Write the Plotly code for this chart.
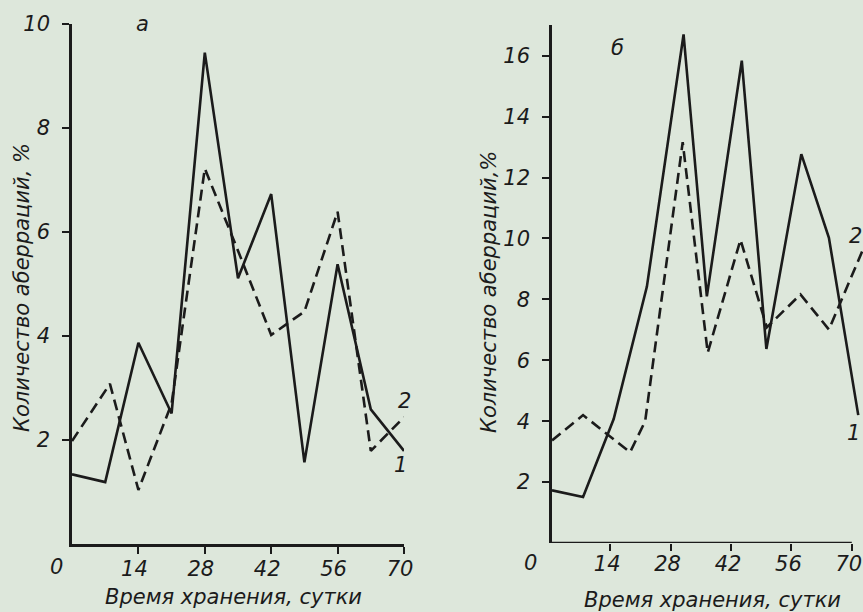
import plotly.graph_objects as go

W, H = 863, 612

# ---- data ----
a_days_1 = [0, 7, 14, 21, 28, 35, 42, 49, 56, 63, 70]
a_curve_1 = [1.34, 1.19, 3.87, 2.51, 9.45, 5.11, 6.73, 1.57, 5.38, 2.59, 1.79]
a_days_2 = [0, 8, 14, 21, 28, 35, 42, 49, 56, 63, 70]
a_curve_2 = [1.98, 3.08, 1.04, 2.70, 7.22, 5.64, 4.02, 4.47, 6.39, 1.79, 2.44]

b_days_1 = [0.5, 7.7, 14.8, 22.5, 31.0, 36.4, 44.5, 50.2, 58.3, 64.7, 71.5]
b_curve_1 = [1.73, 1.51, 4.07, 8.42, 16.7, 8.1, 15.84, 6.37, 12.77, 10.02, 4.2]
b_days_2 = [0.5, 7.7, 18.6, 22.1, 30.8, 36.6, 44.2, 50.3, 58.1, 64.7, 72.6]
b_curve_2 = [3.37, 4.2, 2.98, 4.0, 13.16, 6.25, 9.96, 7.08, 8.16, 7.01, 9.64]

x_ticks = [14, 28, 42, 56, 70]
a_y_ticks = [2, 4, 6, 8, 10]
b_y_ticks = [2, 4, 6, 8, 10, 12, 14, 16]

x_title = "Время хранения, сутки"
a_y_title = "Количество аберраций, %"
b_y_title = "Количество аберраций,%"

INK = "#1b1b1b"
BG = "#dde7db"
FONT = "DejaVu Sans"


def px_x(p):
    return p / W


def px_y(p):
    return 1 - p / H


fig = go.Figure()
solid = dict(color=INK, width=2.6)
dashed = dict(color=INK, width=2.6, dash="11px,6px")
fig.add_trace(go.Scatter(x=a_days_1, y=a_curve_1, mode="lines", line=solid, xaxis="x", yaxis="y", showlegend=False))
fig.add_trace(go.Scatter(x=a_days_2, y=a_curve_2, mode="lines", line=dashed, xaxis="x", yaxis="y", showlegend=False))
fig.add_trace(go.Scatter(x=b_days_1, y=b_curve_1, mode="lines", line=solid, xaxis="x2", yaxis="y2", showlegend=False))
fig.add_trace(go.Scatter(x=b_days_2, y=b_curve_2, mode="lines", line=dashed, xaxis="x2", yaxis="y2", showlegend=False))

tickfont = dict(family=FONT, size=21, color=INK, style="italic")
common_axis = dict(showgrid=False, zeroline=False, linecolor=INK, linewidth=2.6,
                   ticks="outside", ticklen=7, tickwidth=2, tickcolor=INK,
                   tickfont=tickfont, automargin=False, ticklabeloverflow="allow")

fig.update_layout(
    width=W, height=H,
    margin=dict(l=0, r=0, t=0, b=0, autoexpand=False),
    paper_bgcolor=BG, plot_bgcolor=BG,
    xaxis=dict(domain=[px_x(72), px_x(404)], range=[0, 70], anchor="y",
               showline=True, tickvals=x_ticks, ticklabelstandoff=-3,
               ticklabelshift=-4, **common_axis),
    yaxis=dict(domain=[px_y(544), px_y(24)], range=[0, 10], anchor="x",
               showline=True, tickvals=a_y_ticks, ticklabelstandoff=8, **common_axis),
    xaxis2=dict(domain=[px_x(552), 1.0], range=[0.5, 72.6], anchor="y2",
                showline=False, tickvals=x_ticks, ticklabelstandoff=-5,
                ticklabelshift=-3, **common_axis),
    yaxis2=dict(domain=[px_y(543), px_y(25.3)], range=[0, 17], anchor="x2",
                showline=True, tickvals=b_y_ticks, ticklabelstandoff=8, **common_axis),
)

# x-axis line of panel б stops at 70 days
fig.add_shape(type="line", xref="x2", yref="y2", x0=0.5, x1=70, y0=0, y1=0,
              line=dict(color=INK, width=2.6))

txt = dict(family=FONT, size=21, color=INK, style="italic")
ttl = dict(family=FONT, size=21, color=INK, style="italic")
ann = []


def label(x, y, text, font=txt, xref="paper", xshift=0, angle=0):
    ann.append(dict(xref=xref, yref="paper", x=x, y=px_y(y), xshift=xshift,
                    text=text, textangle=angle, showarrow=False, font=font,
                    xanchor="center", yanchor="middle"))


# origin labels
label(0, 567, "0", xref="x", xshift=-16)
label(0.5, 563, "0", xref="x2", xshift=-22)
# axis titles
label(px_x(233), 597, x_title, font=ttl)
label(px_x(712), 600, x_title, font=ttl)
label(px_x(22), 288, a_y_title, font=ttl, angle=-90)
label(px_x(489), 292, b_y_title, font=ttl, angle=-90)
# panel letters
label(px_x(142), 24, "а")
label(px_x(617), 48, "б")
# curve numbers
label(px_x(404), 401, "2")
label(px_x(400), 465, "1")
label(px_x(855), 236, "2")
label(px_x(853), 433, "1")
fig.update_layout(annotations=ann)

page_js = ("document.documentElement.style.margin='0';"
           "document.documentElement.style.overflow='hidden';"
           "document.body.style.margin='0';"
           "document.body.style.overflow='hidden';"
           "document.body.style.background='" + BG + "';")

fig.write_html("out.html", post_script=page_js, config={"displayModeBar": False})
